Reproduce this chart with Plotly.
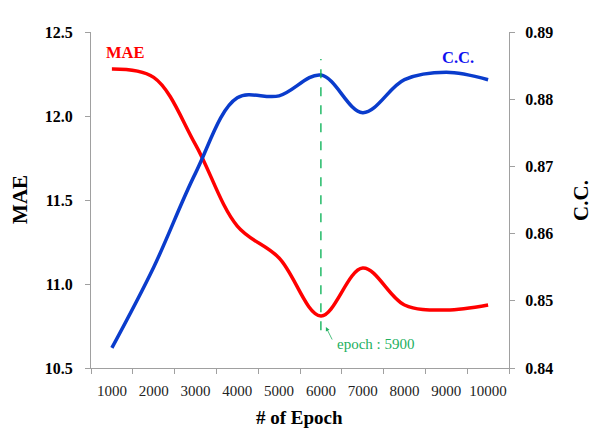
import plotly.graph_objects as go

epochs = ["1000", "2000", "3000", "4000", "5000", "6000", "7000", "8000", "9000", "10000"]
mae = [12.28, 12.23, 11.83, 11.345, 11.155, 10.81, 11.095, 10.875, 10.845, 10.875]
cc = [0.843, 0.855, 0.869, 0.8802, 0.8805, 0.8836, 0.878, 0.8829, 0.884, 0.8829]
best_epoch_label = "epoch : 5900"

best_idx = min(range(len(mae)), key=lambda i: mae[i])

SERIF = "Liberation Serif"
AXIS_GRAY = "#a0a0a0"
GREEN = "#00B050"

fig = go.Figure()
fig.add_trace(go.Scatter(x=list(range(len(epochs))), y=mae, mode="lines", name="MAE",
                         line=dict(color="#FF0000", width=3.5, shape="spline", smoothing=1.0),
                         yaxis="y"))
fig.add_trace(go.Scatter(x=list(range(len(epochs))), y=cc, mode="lines", name="C.C.",
                         line=dict(color="#0A3CCC", width=3.5, shape="spline", smoothing=1.0),
                         yaxis="y2"))

fig.add_shape(type="line", xref="x", yref="y", x0=best_idx, x1=best_idx, y0=10.725, y1=12.34,
              line=dict(color=GREEN, width=1.3, dash="dash"))

# boundary ticks between categories
boundary_vals = [i - 0.5 for i in range(len(epochs) + 1)]

# page body has an 8px default margin; compensate so plot area sits at 91..509 x 32..368
fig.update_layout(
    width=600, height=437,
    margin=dict(l=83, r=99, t=24, b=77, autoexpand=False),
    paper_bgcolor="white", plot_bgcolor="white",
    showlegend=False,
    font=dict(family=SERIF, color="black"),
    xaxis=dict(range=[-0.5, len(epochs) - 0.5],
               tickmode="array", tickvals=boundary_vals, ticktext=[""] * len(boundary_vals),
               ticks="outside", ticklen=5, tickcolor=AXIS_GRAY,
               showline=True, linecolor=AXIS_GRAY, linewidth=1,
               showgrid=False, zeroline=False, automargin=False),
    xaxis2=dict(range=[-0.5, len(epochs) - 0.5], overlaying="x", side="bottom",
                tickmode="array", tickvals=list(range(len(epochs))), ticktext=epochs,
                ticks="", showline=False, showgrid=False, zeroline=False,
                tickangle=0, automargin=False, ticklabelstandoff=12,
                tickfont=dict(family=SERIF, size=15, color="#222")),
    yaxis=dict(range=[10.5, 12.5], dtick=0.5, tickformat=".1f",
               ticks="outside", ticklen=5, tickcolor=AXIS_GRAY,
               showline=True, linecolor=AXIS_GRAY, linewidth=1,
               showgrid=False, zeroline=False, automargin=False, ticklabelstandoff=9,
               tickfont=dict(family=SERIF, size=16, color="black", weight="bold")),
    yaxis2=dict(range=[0.84, 0.89], dtick=0.01, tickformat=".2f",
                overlaying="y", side="right",
                ticks="outside", ticklen=5, tickcolor=AXIS_GRAY,
                showline=True, linecolor=AXIS_GRAY, linewidth=1,
                showgrid=False, zeroline=False, automargin=False, ticklabelstandoff=7,
                tickfont=dict(family=SERIF, size=16, color="black", weight="bold")),
)
# dummy invisible trace to activate xaxis2 for category labels
fig.add_trace(go.Scatter(x=[0], y=[None], xaxis="x2", yaxis="y", showlegend=False,
                         hoverinfo="skip", mode="markers", marker=dict(opacity=0)))

anns = [
    dict(text="<b>MAE</b>", xref="paper", yref="paper", x=-0.17, y=0.503, textangle=-90,
         xanchor="center", yanchor="middle",
         showarrow=False, font=dict(family=SERIF, size=21, color="black")),
    dict(text="<b>C.C.</b>", xref="paper", yref="paper", x=1.172, y=0.5, textangle=-90,
         xanchor="center", yanchor="middle",
         showarrow=False, font=dict(family=SERIF, size=21, color="black")),
    dict(text="<b># of Epoch</b>", xref="paper", yref="paper", x=0.498, y=-0.146,
         xanchor="center", yanchor="middle",
         showarrow=False, font=dict(family=SERIF, size=19, color="black")),
    dict(text="<b>MAE</b>", xref="x", yref="y", x=0, y=12.38, xshift=14,
         showarrow=False, font=dict(family=SERIF, size=16.5, color="#FF0000")),
    dict(text="<b>C.C.</b>", xref="x", yref="y2", x=8, y=0.8862, xshift=12,
         showarrow=False, font=dict(family=SERIF, size=16.5, color="#1010F0")),
    dict(text=best_epoch_label, xref="x", yref="y", x=best_idx, y=10.64, xshift=55,
         showarrow=False, font=dict(family=SERIF, size=15, color="#22B060")),
    dict(text="", xref="x", yref="y", x=best_idx, y=10.744, xshift=5,
         showarrow=True, ax=7, ay=14, arrowhead=2, arrowsize=1, arrowwidth=0.8,
         arrowcolor="#22B060"),
]
fig.update_layout(annotations=anns)

fig.write_html("out.html")
